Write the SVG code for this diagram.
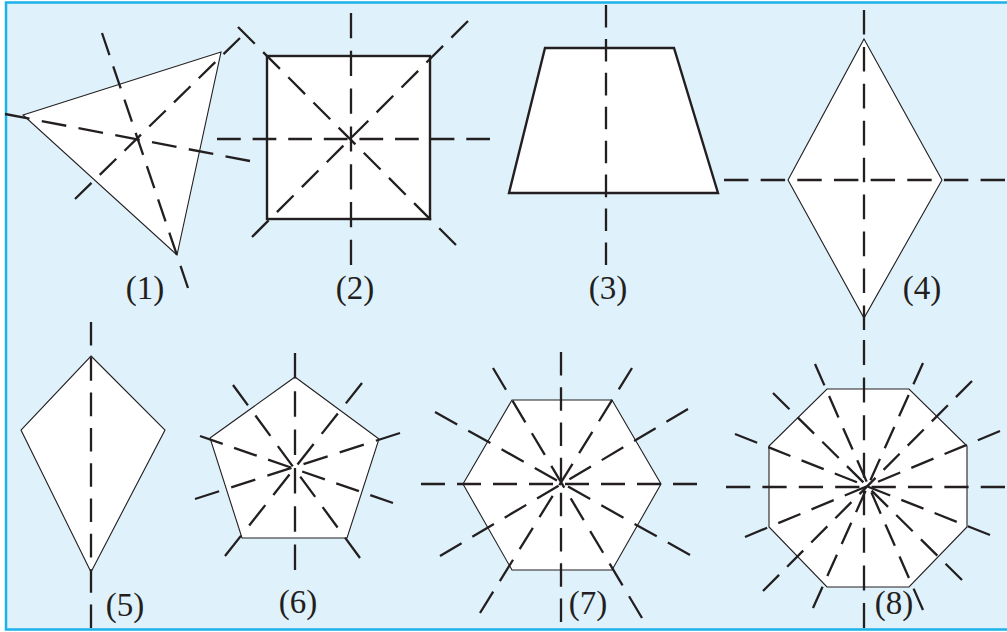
<svg xmlns="http://www.w3.org/2000/svg" width="1007" height="632" viewBox="0 0 1007 632">
<style>
.bg{fill:#dff1fa;stroke:#1cb1e8;stroke-width:2.5}
.shape{fill:#ffffff;stroke:#231f20;stroke-width:1.1;stroke-linejoin:miter}
.thick{fill:#ffffff;stroke:#231f20;stroke-width:2.4;stroke-linejoin:miter}
.axis{stroke:#231f20;stroke-width:2.3;stroke-dasharray:2 1;fill:none}
.lbl{font-family:"Liberation Serif","Times New Roman",serif;font-size:33px;fill:#231f20;text-anchor:middle}
</style>
<rect x="0" y="0" width="1007" height="632" fill="#ffffff"/>
<rect class="bg" x="6" y="2.5" width="1010" height="627"/>

<g id="fig1">
<polygon class="shape" points="23,115 221,52 177,255"/>
<text class="lbl" x="145" y="299">(1)</text>
</g>
<g id="fig2">
<rect class="thick" x="267" y="56" width="163" height="163"/>
<text class="lbl" x="355" y="299">(2)</text>
</g>
<g id="fig3">
<polygon class="thick" points="545,48 674,48 718,193 509,193"/>
<text class="lbl" x="608" y="299">(3)</text>
</g>
<g id="fig4">
<polygon class="shape" points="864,39 942,180 864,318 788,180"/>
<text class="lbl" x="922" y="299">(4)</text>
</g>
<g id="fig5">
<polygon class="shape" points="91,356 165,430 91,572 21,430"/>
<text class="lbl" x="125" y="616">(5)</text>
</g>
<g id="fig6">
<polygon class="shape" points="295,377 379,439 347,538 242,538 210,438"/>
<text class="lbl" x="298" y="613">(6)</text>
</g>
<g id="fig7">
<polygon class="shape" points="512,400 612,400 661,484 612,570 512,570 463,484"/>
<text class="lbl" x="588" y="614">(7)</text>
</g>
<g id="fig8">
<polygon class="shape" points="827,389 909,389 967,446 967,527 909,587 827,587 769,527 769,446"/>
<text class="lbl" x="894" y="614">(8)</text>
</g>

<g id="axes">
<!-- fig1 -->
<path class="axis" pathLength="23" d="M102,33 L188,288"/>
<path class="axis" pathLength="20" d="M5,114 L250,161"/>
<path class="axis" pathLength="20" d="M240,38 L75,199"/>
<!-- fig2 -->
<path class="axis" pathLength="20" d="M351,13 L351,265"/>
<path class="axis" pathLength="23" d="M217,139 L490,139"/>
<path class="axis" pathLength="26" d="M238,27 L456,245"/>
<path class="axis" pathLength="26" d="M468,21 L252,237"/>
<!-- fig3 -->
<path class="axis" pathLength="23" d="M606,5 L606,265"/>
<!-- fig4 -->
<path class="axis" pathLength="26" d="M864,10 L864,330"/>
<path class="axis" pathLength="23" d="M724,180 L1005,180"/>
<!-- fig5 -->
<path class="axis" pathLength="26" d="M91,322 L91,628"/>
<!-- fig6 -->
<path class="axis" pathLength="17" d="M295,353 L295,570"/>
<path class="axis" pathLength="17" d="M400,433 L195,499"/>
<path class="axis" pathLength="17" d="M200,436 L393,503"/>
<path class="axis" pathLength="17" d="M225,556 L362,383"/>
<path class="axis" pathLength="17" d="M360,558 L233,385"/>
<!-- fig7 -->
<path class="axis" pathLength="23" d="M561,352 L561,622"/>
<path class="axis" pathLength="23" d="M421,484 L697,484"/>
<path class="axis" pathLength="23" d="M493,368 L642,618"/>
<path class="axis" pathLength="23" d="M632,368 L480,613"/>
<path class="axis" pathLength="23" d="M435,412 L690,555"/>
<path class="axis" pathLength="23" d="M688,409 L440,556"/>
<!-- fig8 -->
<path class="axis" pathLength="23" d="M864,340 L864,628"/>
<path class="axis" pathLength="23" d="M726,487 L1005,487"/>
<path class="axis" pathLength="23" d="M815,364 L923,610"/>
<path class="axis" pathLength="23" d="M923,363 L813,608"/>
<path class="axis" pathLength="23" d="M773,393 L962,580"/>
<path class="axis" pathLength="26" d="M972,381 L763,591"/>
<path class="axis" pathLength="23" d="M735,434 L990,535"/>
<path class="axis" pathLength="23" d="M1000,431 L745,537"/>
</g>
</svg>
